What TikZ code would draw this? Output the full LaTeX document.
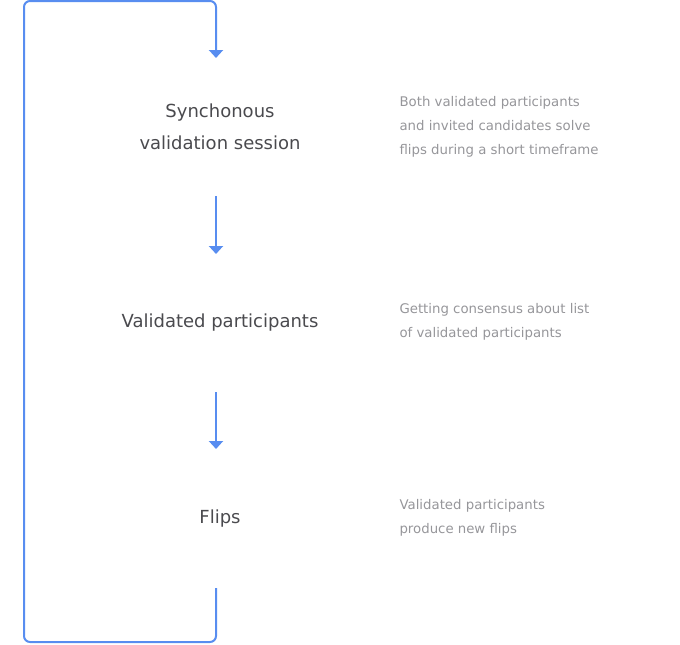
\documentclass[tikz,border=0pt]{standalone}
\usepackage{fontspec}
\setmainfont{DejaVu Sans}
\usetikzlibrary{arrows.meta,positioning}
\definecolor{flowblue}{RGB}{88,141,240}
\definecolor{stagegray}{RGB}{74,74,78}
\definecolor{notegray}{RGB}{150,150,154}

\tikzset{
  stage/.style={text=stagegray, font=\fontsize{18}{32}\selectfont, align=center},
  note/.style={text=notegray, font=\fontsize{13.3}{24}\selectfont, align=left, anchor=west},
  flow/.style={draw=flowblue, line width=2pt, -{Triangle[width=14pt,length=8pt]}},
}

\begin{document}
\begin{tikzpicture}[x=1pt,y=-1pt]
    \useasboundingbox (0,0) rectangle (680,645);
    % stages
    \node[stage] (session) at (220,127) {Synchonous\\validation session};
    \node[stage] (validated) at (220,323) {Validated participants};
    \node[stage] (flips) at (220,519) {Flips};
    % notes
    \node[note] (sessionnote) at (396,127)
          {Both validated participants\\and invited candidates solve\\flips during a short timeframe};
    \node[note] (validatednote) at (396,322)
          {Getting consensus about list\\of validated participants};
    \node[note] (flipsnote) at (396,518)
          {Validated participants\\produce new flips};
    % arrows
    \coordinate (a1) at (216,196);
    \coordinate (b1) at (216,254);
    \coordinate (a2) at (216,392);
    \coordinate (b2) at (216,449);
    \coordinate (loopstart) at (216,588);
    \coordinate (loopend) at (216,58);
    \draw[flow] (a1) -- (b1);
    \draw[flow] (a2) -- (b2);
    \draw[flow, rounded corners=6pt] (loopstart) -- (216,642) -- (24,642)
          -- (24,1) -- (216,1) -- (loopend);
  \end{tikzpicture}
\end{document}
